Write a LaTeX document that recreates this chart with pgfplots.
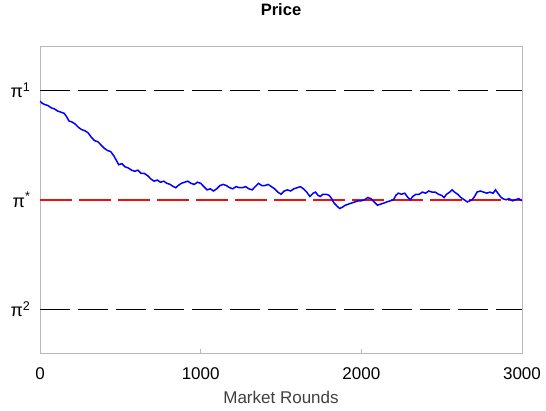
\documentclass[border=0pt]{standalone}
\usepackage{fontspec}
\setmainfont{Liberation Sans}
\usepackage{pgfplots}
\pgfplotsset{compat=1.18}
\definecolor{mred}{rgb}{0.95,0.05,0.05}
\definecolor{mblue}{RGB}{0,0,255}
\begin{document}
\begin{tikzpicture}
\begin{axis}[
  at={(0,0)}, anchor=south west,
  scale only axis, width=482pt, height=306.5pt,
  xmin=0, xmax=3000, ymin=-1.4, ymax=1.4,
  xtick={0,1000,2000,3000},
  ytick={-1,0,1},
  yticklabels={π\textsuperscript{2},π\textsuperscript{*},π\textsuperscript{1}},
  tick align=inside,
  xtick pos=bottom, ytick pos=left,
  major tick length=4pt,
  axis line style={gray!55, line width=0.8pt},
  tick style={gray!55, line width=0.6pt},
  scaled x ticks=false,
  /pgf/number format/assume math mode=true,
  /pgf/number format/set thousands separator={},
  xticklabel style={font=\fontsize{17}{19}\selectfont, yshift=-11pt},
  yticklabel style={font=\fontsize{18}{20}\selectfont, xshift=-6pt},
  title={\textbf{Price}},
  title style={font=\fontsize{16.5}{19}\selectfont, yshift=21pt},
  xlabel={Market Rounds},
  xlabel style={font=\fontsize{17}{20}\selectfont, text=black!75, yshift=-5pt},
  clip=true,
  cycle list={{red}},
]
\addplot[color=black, line width=1.1pt, dash pattern=on 30pt off 8pt] coordinates {(0,1) (1500,1) (3000,1)};
\addplot[color=black, line width=1.1pt, dash pattern=on 30pt off 8pt] coordinates {(0,-1) (1500,-1) (3000,-1)};
\addplot[color=mred, line width=1.6pt, dash pattern=on 32pt off 7pt] coordinates {(0,0) (1500,0) (3000,0)};
\addplot[color=mblue, line width=1.5pt] coordinates {
(0,0.90) (15,0.88) (30,0.87) (50,0.86) (70,0.84) (90,0.83) (110,0.81) (130,0.80)
(150,0.79) (165,0.76) (180,0.72) (200,0.71) (220,0.69) (240,0.66) (260,0.64) (280,0.63)
(300,0.61) (320,0.57) (340,0.54) (360,0.53) (380,0.50) (400,0.47) (420,0.45) (440,0.44)
(460,0.40) (475,0.36) (490,0.32) (510,0.33) (530,0.30) (550,0.29) (570,0.27) (590,0.26)
(610,0.27) (630,0.24) (650,0.24) (670,0.22) (690,0.19) (710,0.17) (730,0.18) (750,0.16)
(770,0.17) (790,0.15) (810,0.14) (830,0.12) (845,0.11) (860,0.13) (880,0.15) (900,0.16)
(920,0.17) (940,0.15) (960,0.14) (980,0.16) (1000,0.15) (1020,0.12) (1040,0.09) (1060,0.10)
(1080,0.08) (1100,0.10) (1120,0.13) (1140,0.14) (1160,0.13) (1180,0.11) (1200,0.10) (1220,0.12)
(1240,0.11) (1260,0.11) (1280,0.12) (1300,0.10) (1320,0.09) (1340,0.12) (1360,0.15) (1380,0.13)
(1400,0.13) (1420,0.14) (1440,0.12) (1460,0.10) (1480,0.07) (1500,0.05) (1520,0.08) (1540,0.09)
(1560,0.08) (1580,0.10) (1600,0.11) (1620,0.12) (1640,0.10) (1660,0.07) (1680,0.03) (1700,0.06)
(1715,0.07) (1730,0.04) (1745,0.03) (1760,0.05) (1780,0.05) (1800,0.04) (1815,0.01) (1830,-0.03)
(1850,-0.06) (1865,-0.08) (1880,-0.07) (1900,-0.05) (1920,-0.04) (1940,-0.03) (1960,-0.02) (1980,-0.01)
(2000,-0.01) (2020,0.00) (2040,0.02) (2060,0.01) (2080,-0.02) (2100,-0.05) (2120,-0.04) (2140,-0.03)
(2160,-0.02) (2180,-0.01) (2200,0.00) (2215,0.04) (2230,0.06) (2250,0.05) (2270,0.06) (2290,0.02)
(2305,0.00) (2320,0.03) (2340,0.05) (2360,0.05) (2380,0.07) (2400,0.06) (2420,0.08) (2440,0.07)
(2460,0.07) (2480,0.05) (2500,0.04) (2515,0.02) (2530,0.05) (2550,0.07) (2565,0.09) (2580,0.07)
(2600,0.05) (2620,0.02) (2640,0.00) (2660,-0.02) (2675,-0.01) (2690,0.00) (2705,0.03) (2720,0.07)
(2740,0.08) (2760,0.07) (2780,0.06) (2800,0.07) (2820,0.06) (2835,0.09) (2850,0.06) (2865,0.03)
(2880,0.01) (2900,0.00) (2920,0.01) (2940,-0.01) (2960,0.00) (2980,0.01) (3000,-0.01)
};
\end{axis}
\path (-40pt,-58pt) rectangle (506pt,353pt);
\end{tikzpicture}
\end{document}
